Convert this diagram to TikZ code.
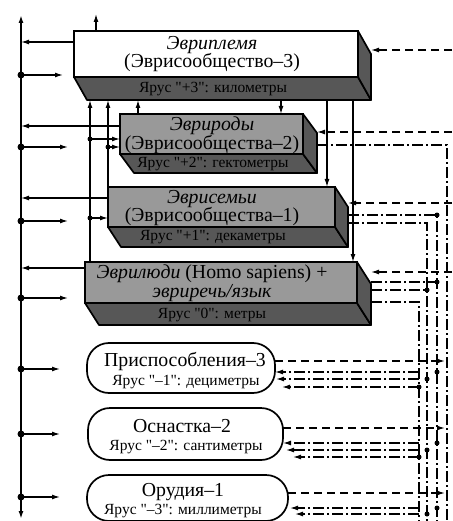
\documentclass[tikz,border=0pt]{standalone}
\usepackage{fontspec}
\setmainfont{Liberation Serif}[Ligatures=TeXReset]
\usetikzlibrary{arrows.meta}
\definecolor{facegray}{gray}{0.60}
\definecolor{sidegray}{gray}{0.34}

\begin{document}
\begin{tikzpicture}[x=1pt, y=-1pt, line width=1.3pt,
    >={Latex[length=8pt,width=5pt]},
    dsh/.style={dash pattern=on 8pt off 5pt},
    dd/.style={dash pattern=on 11pt off 3pt on 2pt off 3pt},
    front/.style={draw, line width=1.7pt, anchor=north west, inner sep=0pt, outer sep=0pt},
    side/.style={fill=sidegray, draw, line width=1.7pt, line join=round},
    oval/.style={draw, fill=white, line width=1.7pt, rounded corners=22pt, anchor=north west, inner sep=0pt, outer sep=0pt},
    big/.style={font=\fontsize{19.8}{18.5}\selectfont, align=center, inner sep=0pt},
    small/.style={font=\fontsize{15.5}{14}\selectfont, inner sep=0pt}]
  \useasboundingbox (0,0) rectangle (452,521);

  % Tier +3
  \node[front, fill=white, minimum width=284pt, minimum height=46pt] (b1) at (74,31) {};
  \filldraw[side] (b1.south west) -- (b1.south east) -- ++(13,23) -- ++(-284,0) -- cycle;
  \filldraw[side] (b1.north east) -- ++(13,23) coordinate (b1r) -- ++(0,46) -- (b1.south east) -- cycle;
  \node[big] (t1) at (212,54) {\textit{Эвриплемя}\\(Эврисообщество–3)};
  \node[small] (y1) at (213,89) {Ярус "+3": километры};
  \coordinate (b1base) at (0,100);

  % Tier +2
  \node[front, fill=facegray, minimum width=183pt, minimum height=40pt] (b2) at (120,114) {};
  \filldraw[side] (b2.south west) -- (b2.south east) -- ++(14,19) -- ++(-183,0) -- cycle;
  \filldraw[side] (b2.north east) -- ++(14,19) coordinate (b2r) -- ++(0,40) -- (b2.south east) -- cycle;
  \node[big] (t2) at (212,135) {\textit{Эврироды}\\(Эврисообщества–2)};
  \node[small] (y2) at (213,164) {Ярус "+2": гектометры};

  % Tier +1
  \node[front, fill=facegray, minimum width=227pt, minimum height=40pt] (b3) at (108,187) {};
  \filldraw[side] (b3.south west) -- (b3.south east) -- ++(13,20) -- ++(-227,0) -- cycle;
  \filldraw[side] (b3.north east) -- ++(13,20) coordinate (b3r) -- ++(0,40) -- (b3.south east) -- cycle;
  \node[big] (t3) at (212,208) {\textit{Эврисемьи}\\(Эврисообщества–1)};
  \node[small] (y3) at (213,237) {Ярус "+1": декаметры};

  % Tier 0
  \node[front, fill=facegray, minimum width=272pt, minimum height=41pt] (b4) at (85,262) {};
  \filldraw[side] (b4.south west) -- (b4.south east) -- ++(14,22) -- ++(-272,0) -- cycle;
  \filldraw[side] (b4.north east) -- ++(14,22) coordinate (b4r) -- ++(0,41) -- (b4.south east) -- cycle;
  \node[big] (t4) at (212,283) {\textit{Эврилюди} (Homo sapiens) +\\\textit{эвриречь/язык}};
  \node[small] (y4) at (212,315) {Ярус "0": метры};

  % Tiers -1, -2, -3
  \node[oval, minimum width=188pt, minimum height=50pt] (b5) at (87,343) {};
  \node[big] (t5) at (185,362) {Приспособления–3};
  \node[small] (y5) at (186,382) {Ярус "–1": дециметры};
  \node[oval, minimum width=195pt, minimum height=52pt] (b6) at (88,408) {};
  \node[big] (t6) at (182,426) {Оснастка–2};
  \node[small] (y6) at (186,447) {Ярус "–2": сантиметры};
  \node[oval, minimum width=201pt, minimum height=46pt] (b7) at (87,475) {};
  \node[big] (t7) at (183,492) {Орудия–1};
  \node[small] (y7) at (183,511) {Ярус "–3": миллиметры};

  % left rail
  \coordinate (rail) at (21,15);
  \coordinate (railend) at (21,519);
  \draw[<->, line width=1.7pt] (railend) -- (rail);
  \foreach \b/\y in {b1/42, b2/126, b3/198, b4/268}
    \draw[->] (\b.west |- 0,\y) -- (rail |- 0,\y);
  \foreach \y/\e in {75/63, 147/68, 221/68, 298/68, 369/60, 434/60, 497/60} {
    \fill (rail |- 0,\y) circle (3.5pt);
    \draw[->] (rail |- 0,\y) -- (\e,\y);
  }
  \draw[->] (b1.north -| 96,0) -- ++(0,-17);

  % links between the upper tiers
  \draw[->] (b4.north -| 90,0) -- (b1base -| 90,0);
  \draw[->] (b3.north west) -- (b1base -| b3.west);
  \draw[->] (b2.north -| 138,0) -- (b1base -| 138,0);
  \draw[->] (b1base -| 281,0) -- (b2.north -| 281,0);
  \draw[->] (b1base -| 327,0) -- (b3.north -| 327,0);
  \draw[->] (b1base -| 353,0) -- (b4.north -| 353,0);
  \fill (90,139) circle (2.5pt);
  \draw[->] (90,139) -- (b2.west |- 0,139);
  \fill (108,147) circle (2.5pt);
  \draw[->] (108,147) -- (b2.west |- 0,147);
  \fill (90,218) circle (2.5pt);
  \draw[->] (90,218) -- (b3.west |- 0,218);

  % dashed inputs on the right
  \foreach \b/\y in {b1/50, b2/132, b3/203, b4/272}
    \draw[->, dsh] (452,\y) -- (\b r |- 0,\y);

  % dash-dot outputs going down
  \coordinate (v4) at (447,145);
  \coordinate (v3) at (437,215);
  \coordinate (v2) at (427,223);
  \coordinate (v1) at (419,302);
  \draw[dd] (b2r |- v4) -- (v4) -- (v4 |- 0,521);
  \draw[dd] (b3r |- v3) -- (v3) -- (v3 |- 0,521);
  \draw[dd] (b3r |- v2) -- (v2) -- (v2 |- 0,521);
  \draw[dd] (b4r |- 0,282) -- (v3 |- 0,282);
  \draw[dd] (b4r |- 0,290) -- (v2 |- 0,290);
  \draw[dd] (b4r |- v1) -- (v1) -- (v1 |- 0,521);
  \fill (v3) circle (2.5pt);
  \fill (v3 |- 0,282) circle (2.5pt);
  \fill (v2 |- 0,290) circle (2.5pt);

  % lower tiers
  \foreach \b/\y in {b5/361, b6/428, b7/493}
    \draw[->, dsh] (\b.east |- 0,\y) -- (445,\y);
  \foreach \b/\y/\s in {b5/372/0, b5/379/1, b5/387/7, b6/443/0, b6/450/3, b6/457/10, b7/508/2, b7/514/7}
    \draw[->, dd, shorten >=\s pt] (\b.east |- 0,\y) coordinate (e) (e -| v1) -- (e);
  \foreach \y in {372, 443, 508} \fill (v3 |- 0,\y) circle (2.5pt);
  \foreach \y in {379, 450, 514} \fill (v2 |- 0,\y) circle (2.5pt);
  \foreach \y in {387, 457} \fill (v1 |- 0,\y) circle (2.5pt);
\end{tikzpicture}
\end{document}
